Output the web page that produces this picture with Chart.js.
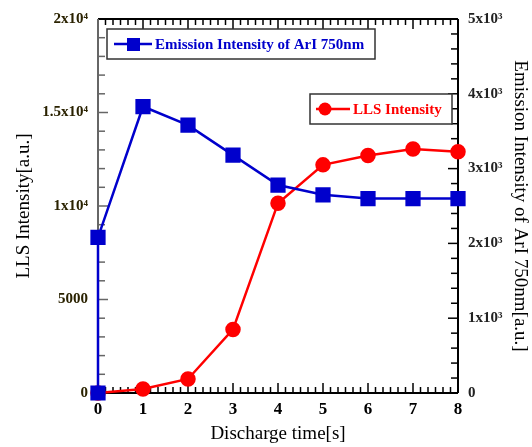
<!DOCTYPE html>
<html>
<head>
<meta charset="utf-8">
<script src="https://cdn.jsdelivr.net/npm/chart.js@4.4.0/dist/chart.umd.min.js"></script>
<style>
  html, body { margin: 0; padding: 0; background: #fff; }
</style>
</head>
<body>
<canvas id="chart" width="532" height="447"></canvas>
<script>
// emission intensity of ArI 750nm (right axis), two points at t=0
const emissionTimes = [0, 0, 1, 2, 3, 4, 5, 6, 7, 8];
const emissionValues = [0, 2080, 3830, 3580, 3180, 2780, 2650, 2600, 2600, 2600];
// LLS intensity (left axis)
const llsTimes = [0, 1, 2, 3, 4, 5, 6, 7, 8];
const llsValues = [0, 210, 750, 3400, 10150, 12200, 12700, 13050, 12900];

// tick labels
const leftTickLabels = {0: "0", 5000: "5000", 10000: "1x10⁴", 15000: "1.5x10⁴", 20000: "2x10⁴"};
const rightTickLabels = {0: "0", 1000: "1x10³", 2000: "2x10³", 3000: "3x10³", 4000: "4x10³", 5000: "5x10³"};

const serif = "'Liberation Serif', 'Times New Roman', serif";
const blue = "#0000cc";
const red = "#ff0000";

const toPoints = (xs, ys) => xs.map((x, i) => ({x: x, y: ys[i]}));

// inward ticks + frame, drawn under the data
const framePlugin = {
  id: "frame",
  beforeDatasetsDraw(chart) {
    const ctx = chart.ctx;
    const a = chart.chartArea;
    const sx = chart.scales.x, yl = chart.scales.yL, yr = chart.scales.yR;
    ctx.save();
    ctx.lineWidth = 1.5;
    const line = (x1, y1, x2, y2, c) => {
      ctx.strokeStyle = c;
      ctx.beginPath();
      ctx.moveTo(x1, y1);
      ctx.lineTo(x2, y2);
      ctx.stroke();
    };
    // x ticks, top and bottom
    for (let i = 0; i <= 48; i++) {
      const px = sx.getPixelForValue(i / 6);
      const len = i % 6 === 0 ? 10 : 6;
      line(px, a.bottom, px, a.bottom - len, "#000");
      line(px, a.top, px, a.top + len, "#000");
    }
    // left ticks
    for (let v = 0; v <= 20000; v += 1000) {
      const py = yl.getPixelForValue(v);
      line(a.left, py, a.left + (v % 5000 === 0 ? 10 : 7), py, "#666");
    }
    // right ticks
    for (let v = 0; v <= 5000; v += 200) {
      const py = yr.getPixelForValue(v);
      line(a.right, py, a.right - (v % 1000 === 0 ? 10 : 7), py, "#000");
    }
    ctx.lineWidth = 2;
    line(a.left, a.top, a.right, a.top, "#000");
    line(a.right, a.top, a.right, a.bottom, "#000");
    line(a.left, a.bottom, a.right, a.bottom, "#000");
    line(a.left, a.top, a.left, a.bottom, "#666");
    ctx.restore();
  }
};

// two boxed legends, one per series
const legendPlugin = {
  id: "boxLegends",
  afterDatasetsDraw(chart) {
    const ctx = chart.ctx;
    ctx.save();
    ctx.font = "bold 15px " + serif;
    ctx.textBaseline = "middle";
    ctx.lineWidth = 1.5;

    // emission legend
    ctx.fillStyle = "#fff";
    ctx.fillRect(107, 29, 268, 30);
    ctx.strokeStyle = "#333";
    ctx.strokeRect(107, 29, 268, 30);
    ctx.strokeStyle = blue;
    ctx.lineWidth = 2.5;
    ctx.beginPath(); ctx.moveTo(114, 44); ctx.lineTo(152, 44); ctx.stroke();
    ctx.fillStyle = blue;
    ctx.fillRect(127, 38, 13, 13);
    ctx.fillText("Emission Intensity of ArI 750nm", 155, 45);

    // LLS legend
    ctx.lineWidth = 1.5;
    ctx.fillStyle = "#fff";
    ctx.fillRect(310, 94, 142, 30);
    ctx.strokeStyle = "#333";
    ctx.strokeRect(310, 94, 142, 30);
    ctx.strokeStyle = red;
    ctx.lineWidth = 2.5;
    ctx.beginPath(); ctx.moveTo(316, 109); ctx.lineTo(350, 109); ctx.stroke();
    ctx.fillStyle = red;
    ctx.beginPath(); ctx.arc(325, 109, 6.5, 0, Math.PI * 2); ctx.fill();
    ctx.fillText("LLS Intensity", 353, 110);
    ctx.restore();
  }
};

new Chart(document.getElementById("chart"), {
  type: "line",
  plugins: [framePlugin, legendPlugin],
  data: {
    datasets: [
      {
        label: "Emission Intensity of ArI 750nm",
        data: toPoints(emissionTimes, emissionValues),
        yAxisID: "yR",
        borderColor: blue,
        backgroundColor: blue,
        borderWidth: 2.5,
        pointStyle: "rect",
        pointRadius: 9,
        pointHoverRadius: 9,
        tension: 0,
        clip: false
      },
      {
        label: "LLS Intensity",
        data: toPoints(llsTimes, llsValues),
        yAxisID: "yL",
        borderColor: red,
        backgroundColor: red,
        borderWidth: 2.5,
        pointStyle: "circle",
        pointRadius: 6.5,
        pointHoverRadius: 6.5,
        tension: 0,
        clip: false
      }
    ]
  },
  options: {
    responsive: false,
    animation: false,
    devicePixelRatio: 1,
    layout: { padding: { top: 15, left: 0, right: 0, bottom: 0 } },
    plugins: { legend: { display: false }, tooltip: { enabled: false } },
    scales: {
      x: {
        type: "linear",
        min: 0, max: 8,
        grid: { display: false, drawTicks: false },
        border: { display: false },
        ticks: { stepSize: 1, padding: 6, color: "#000", font: { family: serif, size: 17, weight: "bold" } },
        title: { display: true, text: "Discharge time[s]", color: "#000", padding: { top: 0, bottom: 2 }, font: { family: serif, size: 19 } },
        afterFit: (s) => { s.height = 54; }
      },
      yL: {
        position: "left",
        min: 0, max: 20000,
        grid: { display: false, drawTicks: false },
        border: { display: false },
        ticks: { stepSize: 5000, padding: 10, color: "#2a2200", font: { family: serif, size: 15, weight: "bold" },
                 callback: (v) => leftTickLabels[v] },
        title: { display: true, text: "LLS Intensity[a.u.]", color: "#000", padding: { top: 13, bottom: 0 }, font: { family: serif, size: 19 } },
        afterFit: (s) => { s.width = 98; }
      },
      yR: {
        position: "right",
        min: 0, max: 5000,
        grid: { display: false, drawTicks: false },
        border: { display: false },
        ticks: { stepSize: 1000, padding: 10, color: "#222", font: { family: serif, size: 15, weight: "bold" },
                 callback: (v) => rightTickLabels[v] },
        title: { display: true, text: "Emission Intensity of ArI 750nm[a.u.]", color: "#000", padding: { top: 1, bottom: 0 }, font: { family: serif, size: 19 } },
        afterFit: (s) => { s.width = 74; }
      }
    }
  }
});
</script>
</body>
</html>
